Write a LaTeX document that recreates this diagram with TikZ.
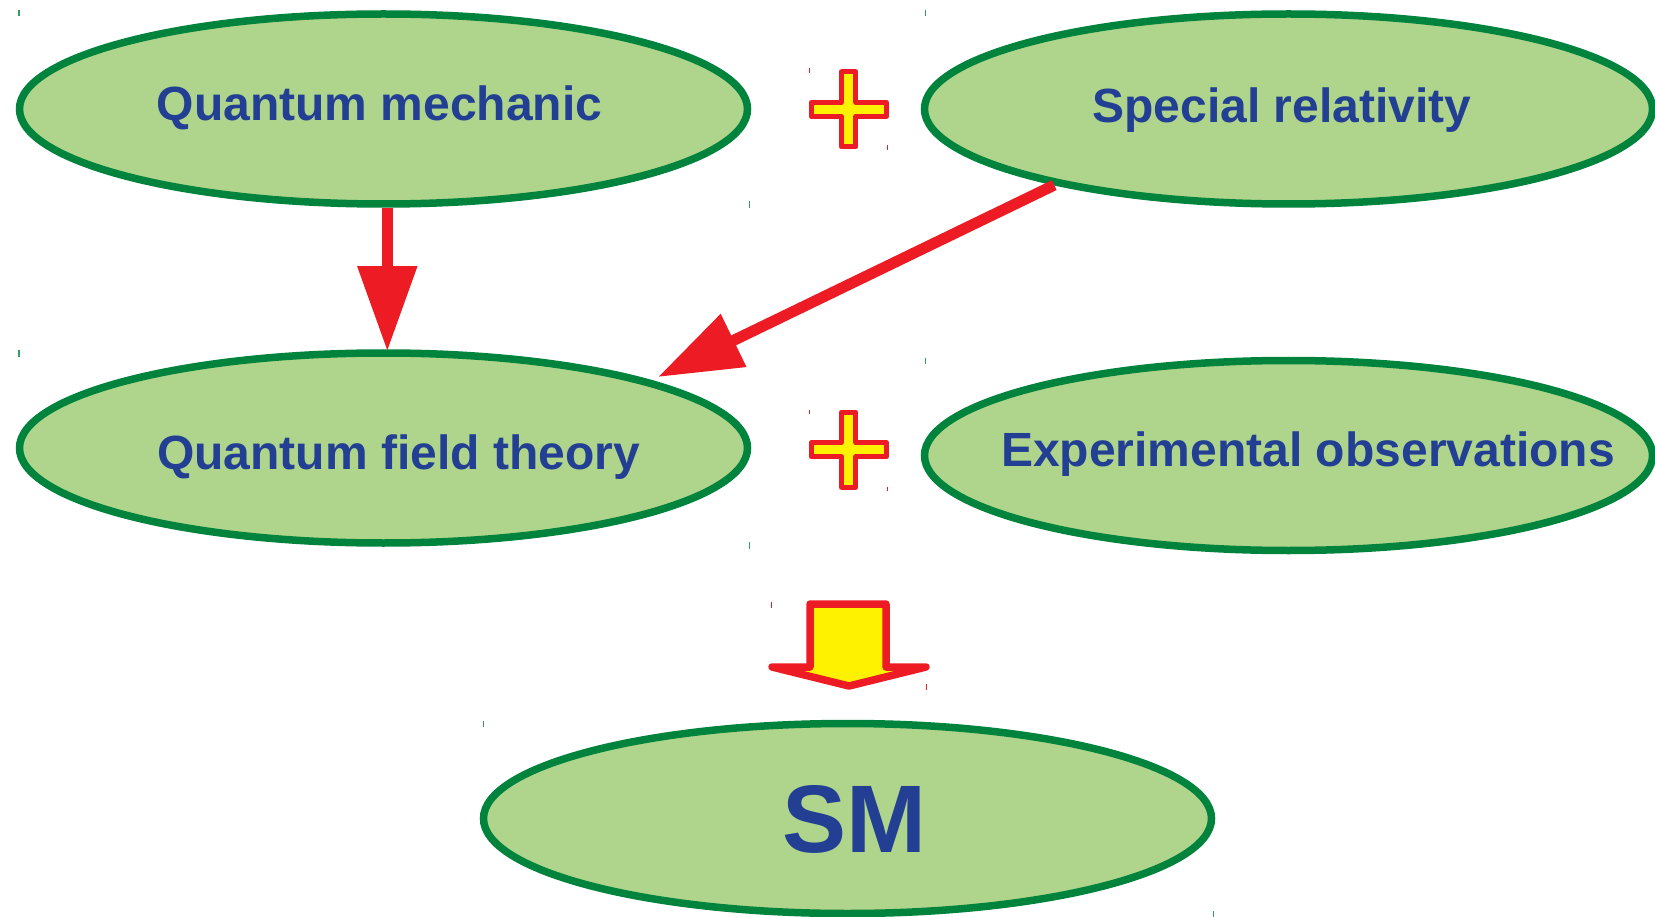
\documentclass[tikz,border=0pt]{standalone}
\usepackage{fontspec}
\setmainfont{Liberation Sans}
\usetikzlibrary{shapes.geometric,arrows.meta}
\definecolor{ellfill}{HTML}{AED58B}
\definecolor{ellline}{HTML}{00843D}
\definecolor{txtblue}{HTML}{233F94}
\definecolor{arrred}{HTML}{ED1C24}
\definecolor{plusyel}{HTML}{FFF200}
\tikzset{
  bubble/.style={ellipse, draw=ellline, fill=ellfill, line width=7.5pt, inner sep=0pt,
    minimum width=728pt, minimum height=190pt},
  btext/.style={text=txtblue, font=\fontsize{48}{50}\selectfont\bfseries, anchor=base, inner sep=0pt},
  bigtext/.style={text=txtblue, font=\fontsize{96}{100}\selectfont\bfseries, anchor=base, inner sep=0pt},
  redarrow/.style={draw=arrred, line width=11.5pt, -{Triangle[length=85pt,width=57pt]}},
  redarrowb/.style={draw=arrred, line width=11pt, -{Triangle[length=84pt,width=56pt]}},
  plusst/.style={draw=arrred, fill=plusyel, line width=5pt, line join=round},
  bigarr/.style={draw=arrred, fill=plusyel, line width=7.5pt, line join=round},
  gtick/.style={draw=ellline!80, line width=1.2pt},
  rtick/.style={draw=arrred, line width=1.2pt},
  plussign/.pic={
    \path[plusst] (-7.2,-37.5) -- (7.2,-37.5) -- (7.2,-7.2) -- (37.5,-7.2) -- (37.5,7.2) -- (7.2,7.2)
      -- (7.2,37.5) -- (-7.2,37.5) -- (-7.2,7.2) -- (-37.5,7.2) -- (-37.5,-7.2) -- (-7.2,-7.2) -- cycle;
  }
}
\begin{document}
\begin{tikzpicture}[x=1pt,y=-1pt]
\useasboundingbox (0,0) rectangle (1655,917);
\fill[white] (0,0) rectangle (1655,917);

% ellipses
\node[bubble] (qm)  at (383.5,109) {};
\node[bubble] (sr)  at (1288.5,109) {};
\node[bubble] (qft) at (383.5,448) {};
\node[bubble] (exp) at (1288.5,455.5) {};
\node[bubble] (sm)  at (847.5,818.5) {};

% texts
\node[btext] (tqm)  at (379.5,121) {Quantum mechanic};
\node[btext] (tsr)  at (1282,123) {Special relativity};
\node[btext] (tqft) at (398.4,469) {Quantum field theory};
\node[btext] (texp) at (1308,466) {Experimental observations};
\node[bigtext] (tsm) at (854,852) {SM};

% plus signs
\pic (plusa) at (848.7,109.5) {plussign};
\pic (plusb) at (848.7,449.6) {plussign};

% connectors
\coordinate (a2tip) at (658,377);
\draw[redarrow] ([xshift=3.8pt]qm.south) -- ([xshift=3.8pt,yshift=-2pt]qft.north);
\draw[redarrowb] (sr.198) -- (a2tip);

% big down arrow
\path[bigarr] (810,604) -- (886,604) -- (886,667) -- (926,667) -- (849,686)
  -- (772,667) -- (810,667) -- cycle;

% corner ticks
\draw[gtick] (19,10) -- (19,16);
\draw[gtick] (925.7,10) -- (925.7,16);
\draw[gtick] (749.4,201) -- (749.4,208);
\draw[gtick] (19,350) -- (19,357);
\draw[gtick] (925.7,358) -- (925.7,364);
\draw[gtick] (749.4,542) -- (749.4,549);
\draw[gtick] (483.4,721) -- (483.4,727);
\draw[gtick] (1213.8,911) -- (1213.8,917);
\draw[rtick] (809.6,68.5) -- (809.6,73);
\draw[rtick] (887.7,145.5) -- (887.7,150);
\draw[rtick] (809.6,409.5) -- (809.6,414);
\draw[rtick] (887.7,486.5) -- (887.7,491);
\draw[rtick] (771.6,601.5) -- (771.6,608);
\draw[rtick] (926.7,684) -- (926.7,690);
\end{tikzpicture}
\end{document}
